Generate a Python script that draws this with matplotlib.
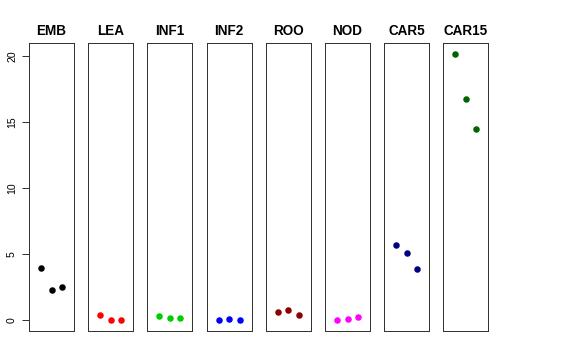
import numpy as np
import matplotlib
matplotlib.use("Agg")
import matplotlib.pyplot as plt

plt.rcParams['font.family'] = ['Liberation Sans', 'DejaVu Sans']

# panel names and colours (R palette)
groups = ["EMB", "LEA", "INF1", "INF2", "ROO", "NOD", "CAR5", "CAR15"]
colors = ["black", "#FF0000", "#00CD00", "#0000FF", "#8B0000", "#FF00FF", "#000080", "#006400"]

# three values per panel
x_pos = [1, 2, 3]
emb = [3.95, 2.29, 2.49]
lea = [0.43, 0.03, 0.03]
inf1 = [0.35, 0.15, 0.15]
inf2 = [0.03, 0.13, 0.03]
roo = [0.63, 0.78, 0.38]
nod = [0.04, 0.08, 0.26]
car5 = [5.71, 5.13, 3.90]
car15 = [20.15, 16.75, 14.44]
values = [emb, lea, inf1, inf2, roo, nod, car5, car15]

W, H = 576, 360
fig = plt.figure(figsize=(W / 72, H / 72), dpi=72)

left0 = 29
pitch = 59.2
pw = 45
top = 43
bottom = 331

ymin, ymax = -0.8, 20.96

for i, (name, col, vals) in enumerate(zip(groups, colors, values)):
    x0 = left0 + i * pitch
    ax = fig.add_axes([x0 / W, 1 - bottom / H, pw / W, (bottom - top) / H])
    ax.plot(x_pos, vals, 'o', color=col, markersize=6.5, markeredgewidth=0)
    ax.set_xlim(-0.16, 4.16)
    ax.set_ylim(ymin, ymax)
    ax.set_xticks([])
    for s in ax.spines.values():
        s.set_linewidth(1)
        s.set_color("#333333")
    ax.set_title(name, fontsize=13.5, fontweight='bold', pad=8)
    if i == 0:
        ax.set_yticks([0, 5, 10, 15, 20])
        ax.tick_params(axis='y', length=7, width=1, color="#333333", labelsize=10.5, pad=5)
        for lab in ax.get_yticklabels():
            lab.set_rotation(90)
            lab.set_va('center')
    else:
        ax.set_yticks([])

fig.savefig("out.png", dpi=72)
